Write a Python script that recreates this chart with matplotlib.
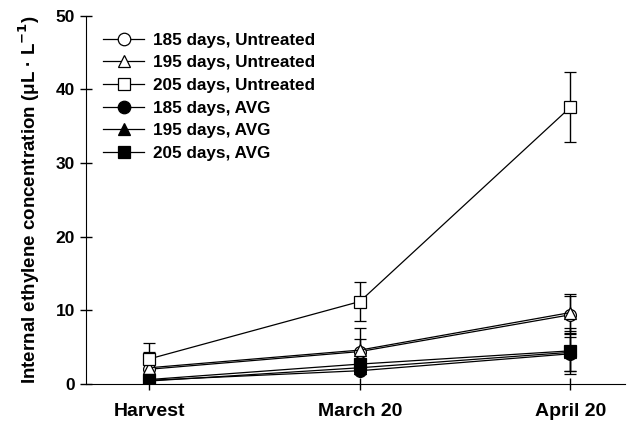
import numpy as np
import matplotlib.pyplot as plt
from matplotlib.lines import Line2D

plt.rcParams['font.family'] = ['Liberation Sans', 'DejaVu Sans']
plt.rcParams['font.weight'] = 'bold'

dates = ['Harvest', 'March 20', 'April 20']

labels = ['185 days, Untreated', '195 days, Untreated', '205 days, Untreated',
          '185 days, AVG', '195 days, AVG', '205 days, AVG']
markers = ['o', '^', 's', 'o', '^', 's']
filled = [False, False, False, True, True, True]

means = [
    [2.0, 4.4, 9.4],
    [2.2, 4.6, 9.7],
    [3.4, 11.2, 37.6],
    [0.5, 1.8, 4.1],
    [0.4, 2.2, 4.3],
    [0.6, 2.7, 4.5],
]
errs = [
    [1.5, 1.7, 2.6],
    [2.1, 3.0, 2.5],
    [2.2, 2.7, 4.8],
    [0.3, 0.5, 2.3],
    [0.3, 0.6, 2.6],
    [0.4, 0.7, 3.1],
]

fig = plt.figure(figsize=(6.38, 4.29), dpi=100)
ax = fig.add_axes([0.135, 0.105, 0.845, 0.858])

x = np.arange(len(dates))
handles = []
for lab, m, f, y, e in zip(labels, markers, filled, means, errs):
    fc = 'black' if f else 'white'
    ax.errorbar(x, y, yerr=e, color='black', lw=0.9, elinewidth=1.0,
                capsize=4.5, capthick=1.0, marker=m, markersize=8.5,
                markerfacecolor=fc, markeredgecolor='black', markeredgewidth=0.9)
    handles.append(Line2D([], [], color='black', lw=0.9, marker=m, markersize=9,
                          markerfacecolor=fc, markeredgecolor='black',
                          markeredgewidth=0.9, label=lab))

ax.set_xlim(-0.3, 2.26)
ax.set_ylim(0, 50)
ax.set_xticks(x)
ax.set_xticklabels(dates, fontsize=14, fontweight='bold')
ax.set_yticks([0, 10, 20, 30, 40, 50])
ax.tick_params(axis='y', labelsize=12.5, direction='inout', length=8, width=1, pad=4)
ax.tick_params(axis='x', direction='inout', length=8, width=1, pad=10)
for t in ax.get_yticklabels():
    t.set_fontweight('bold')
ax.spines['top'].set_visible(False)
ax.spines['right'].set_visible(False)
ax.set_ylabel('Internal ethylene concentration (\u03bcL \u00b7 L$^{\\mathbf{-1}}$)',
              fontsize=13.5, fontweight='bold', labelpad=10)

leg = ax.legend(handles=handles, loc='upper left', bbox_to_anchor=(0.0, 1.0),
                frameon=False, fontsize=12.3, handlelength=2.4, handletextpad=0.5,
                labelspacing=0.44, borderaxespad=0.6)
for t in leg.get_texts():
    t.set_fontweight('bold')

fig.savefig('out.png', dpi=100)
